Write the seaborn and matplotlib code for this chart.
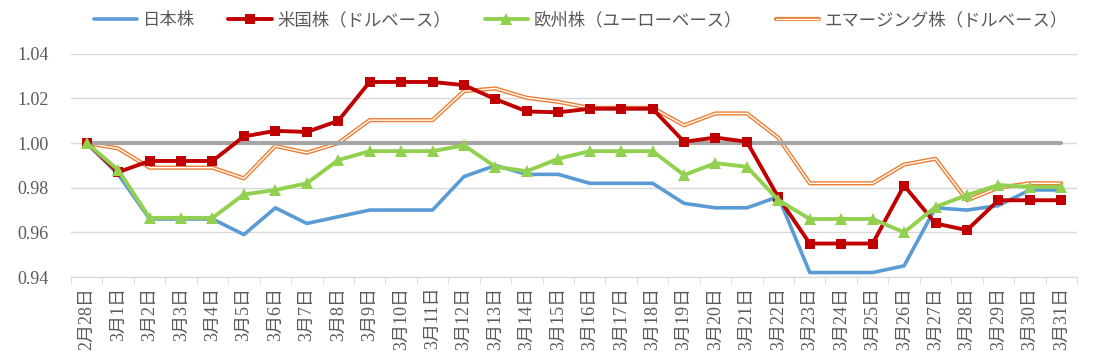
import numpy as np
import pandas as pd
import seaborn as sns
import matplotlib.pyplot as plt
from matplotlib.lines import Line2D

# dates on the x axis
dates = ["2月28日"] + [f"3月{d}日" for d in range(1, 32)]

japan = [1.000, 0.986, 0.966, 0.966, 0.966, 0.959, 0.971, 0.964, 0.967, 0.970,
         0.970, 0.970, 0.985, 0.990, 0.986, 0.986, 0.982, 0.982, 0.982, 0.973,
         0.971, 0.971, 0.976, 0.942, 0.942, 0.942, 0.945, 0.971, 0.970, 0.972,
         0.979, 0.979]
usa = [1.000, 0.987, 0.992, 0.992, 0.992, 1.003, 1.0055, 1.005, 1.010, 1.0274,
       1.0274, 1.0274, 1.026, 1.0197, 1.0142, 1.0138, 1.0154, 1.0154, 1.0154, 1.0006,
       1.0025, 1.0006, 0.9757, 0.955, 0.955, 0.955, 0.981, 0.964, 0.961, 0.9744,
       0.9744, 0.9744]
europe = [1.000, 0.988, 0.9665, 0.9665, 0.9665, 0.977, 0.979, 0.982, 0.9924, 0.9964,
          0.9964, 0.9964, 0.999, 0.9894, 0.9874, 0.993, 0.9964, 0.9964, 0.9964, 0.9857,
          0.991, 0.9894, 0.9745, 0.966, 0.966, 0.966, 0.960, 0.9714, 0.9767, 0.9812,
          0.9804, 0.9804]
emerging = [1.000, 0.9976, 0.989, 0.989, 0.989, 0.9842, 0.9987, 0.9957, 1.000, 1.0103,
            1.0103, 1.0103, 1.0233, 1.0245, 1.0203, 1.0185, 1.0158, 1.0158, 1.0158, 1.008,
            1.0133, 1.0133, 1.0024, 0.982, 0.982, 0.982, 0.9904, 0.993, 0.9744, 0.980,
            0.982, 0.982]
baseline = [1.0] * len(dates)

labels = ["日本株", "米国株（ドルベース）", "欧州株（ユーローベース）", "エマージング株（ドルベース）"]

df = pd.DataFrame({"x": np.arange(len(dates)), "japan": japan, "usa": usa,
                   "europe": europe, "emerging": emerging, "base": baseline})

sns.set_style("white")
plt.rcParams["font.family"] = ["Liberation Serif", "Noto Sans CJK JP"]

fig = plt.figure(figsize=(11.03, 3.64), dpi=100)
ax = fig.add_axes([0.0644, 0.239, 0.912, 0.613])

sns.lineplot(data=df, x="x", y="japan", ax=ax, color="#5B9BD5", lw=2.6, zorder=3)
sns.lineplot(data=df, x="x", y="emerging", ax=ax, color="#ED7D31", lw=3.0, zorder=2)
sns.lineplot(data=df, x="x", y="emerging", ax=ax, color="white", lw=1.0, zorder=2.1)
sns.lineplot(data=df, x="x", y="base", ax=ax, color="#A5A5A5", lw=3.0, zorder=4)
sns.lineplot(data=df, x="x", y="usa", ax=ax, color="#C00000", lw=2.8,
             marker="s", markersize=7.5, markeredgewidth=0, zorder=5)
sns.lineplot(data=df, x="x", y="europe", ax=ax, color="#92D050", lw=2.8,
             marker="^", markersize=8.5, markeredgewidth=0, zorder=6)

ax.set_xlim(-0.5, len(dates) - 0.5)
ax.set_ylim(0.94, 1.04)
ax.set_yticks(np.arange(0.94, 1.041, 0.02))
ax.set_yticklabels([f"{v:.2f}" for v in np.arange(0.94, 1.041, 0.02)])
ax.set_xticks(np.arange(len(dates)))
ax.set_xticklabels(dates, rotation=90)
ax.set_xticks(np.arange(-0.5, len(dates), 1.0), minor=True)
ax.set_xlabel("")
ax.set_ylabel("")

ax.grid(axis="y", color="#D9D9D9", lw=1)
ax.set_axisbelow(True)
for s in ["top", "right", "left"]:
    ax.spines[s].set_visible(False)
ax.spines["bottom"].set_color("#D9D9D9")
ax.tick_params(axis="y", length=0, pad=16, labelsize=13, labelcolor="#595959")
ax.tick_params(axis="x", which="major", length=0, pad=7, labelsize=13, labelcolor="#595959")
ax.tick_params(axis="x", which="minor", length=5, color="#D9D9D9", bottom=True)

handles = [
    Line2D([], [], color="#5B9BD5", lw=2.6),
    Line2D([], [], color="#C00000", lw=2.8, marker="s", markersize=7.5, markeredgewidth=0),
    Line2D([], [], color="#92D050", lw=2.8, marker="^", markersize=8.5, markeredgewidth=0),
    (Line2D([], [], color="#ED7D31", lw=3.0), Line2D([], [], color="white", lw=1.0)),
]
ax.legend(handles, labels, loc="center", bbox_to_anchor=(0.507, 1.15), ncol=4,
          frameon=False, handlelength=2.5, columnspacing=1.9, handletextpad=0.35,
          prop={"family": ["Noto Sans CJK JP"], "size": 12.5}, labelcolor="#595959")

fig.savefig("out.png", dpi=100)
